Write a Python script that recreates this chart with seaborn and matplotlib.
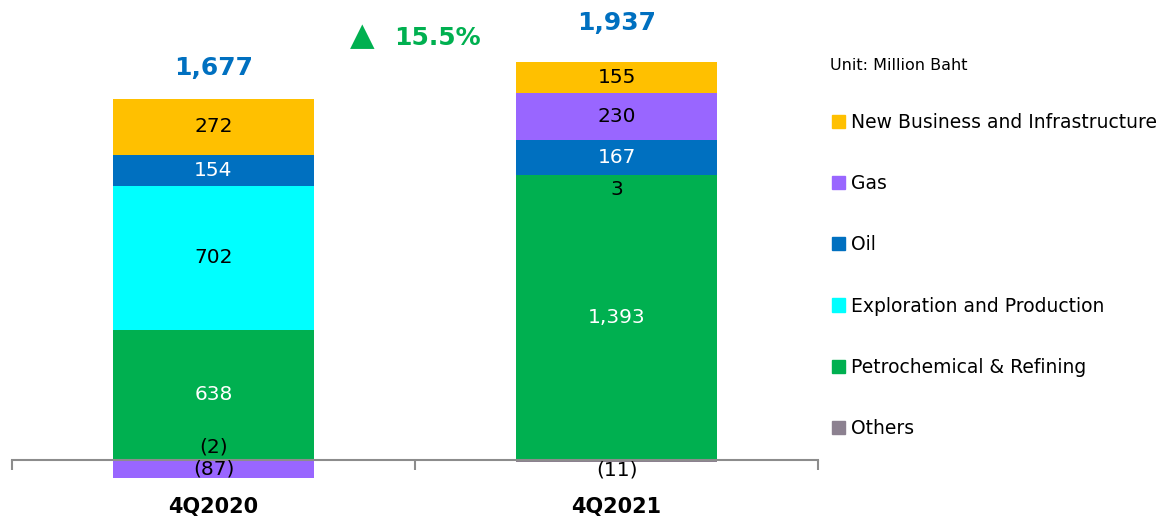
import matplotlib
matplotlib.use("Agg")
import matplotlib.pyplot as plt
import matplotlib.patches as mpatches
import seaborn as sns
import numpy as np

sns.set_style("white")
plt.rcParams['font.family'] = ['DejaVu Sans']
plt.rcParams['text.color'] = 'black'

# ---- data ----
quarters = ["4Q2020", "4Q2021"]
segments = ["Others", "Petrochemical & Refining", "Exploration and Production",
            "Oil", "Gas", "New Business and Infrastructure"]
others = [-2, -11]
petro = [638, 1393]
ep = [702, 3]
oil = [154, 167]
gas = [-87, 230]
nbi = [272, 155]
totals = [1677, 1937]
growth_label = "15.5%"
unit_label = "Unit: Million Baht"

series = [others, petro, ep, oil, gas, nbi]
colors = ["#8C8190", "#00B050", "#00FFFF", "#0070C0", "#9966FF", "#FFC000"]
label_colors = ["black", "white", "black", "white", "black", "black"]

fig = plt.figure(figsize=(11.74, 5.2), dpi=100)
ax = fig.add_axes([12/1174, 0, (818-12)/1174, 1])

pos_base = np.zeros(len(quarters))
neg_base = np.zeros(len(quarters))
bottoms_all = []
for vals, col in zip(series, colors):
    vals = np.array(vals, dtype=float)
    bottoms = np.where(vals >= 0, pos_base, neg_base)
    sns.barplot(x=quarters, y=vals, bottom=bottoms, color=col, width=0.5,
                errorbar=None, ax=ax, linewidth=0, saturation=1)
    bottoms_all.append(bottoms.copy())
    pos_base = pos_base + np.where(vals >= 0, vals, 0)
    neg_base = neg_base + np.where(vals < 0, vals, 0)

ylo, yhi = -293.5, 2250
ax.set_ylim(ylo, yhi)
ax.set_xlim(-0.5, 1.5)


def fmt(v):
    return f"({abs(v):,})" if v < 0 else f"{v:,}"

# segment labels
for si, (vals, lc) in enumerate(zip(series, label_colors)):
    for qi, v in enumerate(vals):
        b = bottoms_all[si][qi]
        y = b + v / 2
        color = lc
        if segments[si] == "Others":
            y = 64 if qi == 0 else -49
            color = "black"
        elif abs(v) < 20:
            y = b + v - 75
            color = "black"
        ax.text(qi, y, fmt(v), ha="center", va="center", fontsize=14.5, color=color)

# totals
total_offsets = [150, 190]
for qi, t in enumerate(totals):
    ax.text(qi, pos_base[qi] + total_offsets[qi], f"{t:,}", ha="center", va="center",
            fontsize=18, fontweight="bold", color="#0070C0")

# growth
ax.text(0.368, 2072, "\u25B2", ha="center", va="center", fontsize=23, color="#00B050")
ax.text(0.555, 2063, growth_label, ha="center", va="center", fontsize=18,
        fontweight="bold", color="#00B050")

# category labels
for qi, q in enumerate(quarters):
    ax.text(qi, -230, q, ha="center", va="center", fontsize=15, fontweight="bold", color="black")

# axes styling
for s in ["top", "right", "left"]:
    ax.spines[s].set_visible(False)
ax.spines["bottom"].set_position(("data", 0))
ax.spines["bottom"].set_color("#8C8C8C")
ax.spines["bottom"].set_linewidth(1.5)
ax.set_xticks([-0.5, 0.5, 1.5])
ax.set_xticklabels([])
ax.tick_params(axis="x", direction="out", length=7, width=1.5, color="#8C8C8C", bottom=True)
ax.set_yticks([])
ax.set_ylabel("")
ax.set_xlabel("")
ax.patch.set_alpha(0)

# legend
order = [5, 4, 3, 2, 1, 0]
handles = [mpatches.Patch(color=colors[i], label=segments[i]) for i in order]
fig.legend(handles=handles, loc="upper left", bbox_to_anchor=(832/1174, 1 - 113/520),
           frameon=False, fontsize=13.5, handlelength=0.7, handleheight=0.7,
           handletextpad=0.3, labelspacing=2.25, borderaxespad=0, borderpad=0,
           labelcolor="black")
fig.text(830/1174, 1 - 66/520, unit_label, ha="left", va="center", fontsize=11.5, color="black")

fig.savefig("out.png", dpi=100)
